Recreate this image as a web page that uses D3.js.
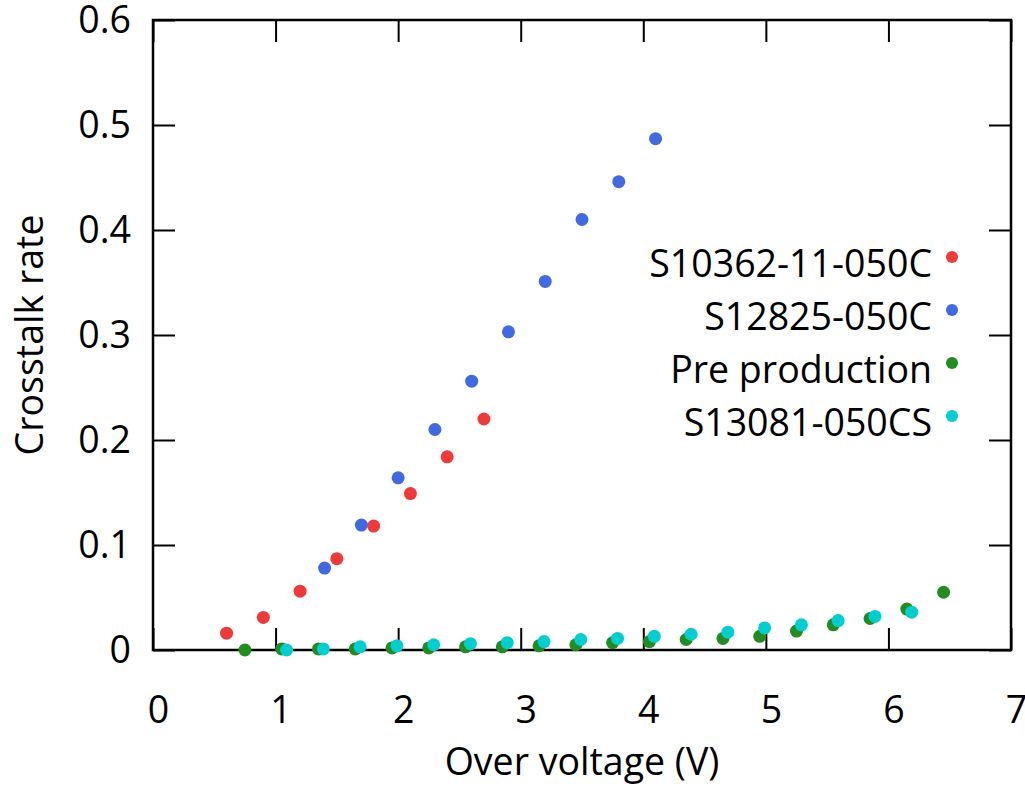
<!DOCTYPE html>
<html>
<head>
<meta charset="utf-8">
<script src="https://cdn.jsdelivr.net/npm/d3@7/dist/d3.min.js"></script>
<style>
  body { margin: 0; background: #fff; }
  svg text { font-family: "Open Sans", sans-serif; fill: #000; }
</style>
</head>
<body>
<svg id="chart" width="1025" height="787"></svg>
<script>
// tick values
var xTicks = [0, 1, 2, 3, 4, 5, 6, 7];
var yTicks = [0, 0.1, 0.2, 0.3, 0.4, 0.5, 0.6];

// series
var seriesNames = ['S10362-11-050C', 'S12825-050C', 'Pre production', 'S13081-050CS'];
var seriesColors = ['#ef3a3a', '#4169e1', '#228b22', '#00ced1'];

var s10362X = [0.6, 0.9, 1.2, 1.5, 1.8, 2.1, 2.4, 2.7];
var s10362Y = [0.016, 0.031, 0.056, 0.087, 0.118, 0.149, 0.184, 0.220];

var s12825X = [1.4, 1.7, 2.0, 2.3, 2.6, 2.9, 3.2, 3.5, 3.8, 4.1];
var s12825Y = [0.078, 0.119, 0.164, 0.210, 0.256, 0.303, 0.351, 0.410, 0.446, 0.487];

var preProdX = [0.75, 1.05, 1.35, 1.65, 1.95, 2.25, 2.55, 2.85, 3.15, 3.45,
                3.75, 4.05, 4.35, 4.65, 4.95, 5.25, 5.55, 5.85, 6.15, 6.45];
var preProdY = [0.000, 0.001, 0.001, 0.001, 0.002, 0.002, 0.003, 0.003, 0.004, 0.005,
                0.007, 0.008, 0.010, 0.011, 0.013, 0.018, 0.024, 0.030, 0.039, 0.055];

var s13081X = [1.09, 1.39, 1.69, 1.99, 2.29, 2.59, 2.89, 3.19, 3.49,
               3.79, 4.09, 4.39, 4.69, 4.99, 5.29, 5.59, 5.89, 6.19];
var s13081Y = [0.000, 0.001, 0.003, 0.004, 0.005, 0.006, 0.007, 0.008, 0.010,
               0.011, 0.013, 0.015, 0.017, 0.021, 0.024, 0.028, 0.032, 0.036];

var seriesX = [s10362X, s12825X, preProdX, s13081X];
var seriesY = [s10362Y, s12825Y, preProdY, s13081Y];

var svg = d3.select('#chart');
// plot frame in pixels (don't call it "top", that's window.top)
var plotLeft = 153, plotRight = 1011, plotTop = 20, plotBottom = 650;
var fontSize = 37.5;

var x = d3.scaleLinear().domain([0, 7]).range([plotLeft, plotRight]);
var y = d3.scaleLinear().domain([0, 0.6]).range([plotBottom, plotTop]);

// inward ticks on all four sides
var xAxis = svg.append('g')
  .attr('transform', 'translate(0,' + plotBottom + ')')
  .call(d3.axisBottom(x).tickValues(xTicks).tickSize(-22).tickSizeOuter(0).tickPadding(46).tickFormat(d3.format('d')));
xAxis.selectAll('text').attr('dx', 5);

var yAxis = svg.append('g')
  .attr('transform', 'translate(' + plotLeft + ',0)')
  .call(d3.axisLeft(y).tickValues(yTicks).tickSize(-22).tickSizeOuter(0).tickPadding(22)
    .tickFormat(function(d) { return d === 0 ? '0' : d3.format('.1f')(d); }));

svg.append('g')
  .attr('transform', 'translate(0,' + plotTop + ')')
  .call(d3.axisTop(x).tickValues(xTicks).tickSize(-22).tickSizeOuter(0).tickFormat(''));

svg.append('g')
  .attr('transform', 'translate(' + plotRight + ',0)')
  .call(d3.axisRight(y).tickValues(yTicks).tickSize(-22).tickSizeOuter(0).tickFormat(''));

svg.selectAll('.domain').remove();
svg.selectAll('.tick line').attr('stroke', '#000').attr('stroke-width', 2);
svg.selectAll('.tick text')
  .attr('font-size', fontSize)
  .style('font-family', '"Open Sans", sans-serif');

svg.append('rect')
  .attr('x', plotLeft)
  .attr('y', plotTop)
  .attr('width', plotRight - plotLeft)
  .attr('height', plotBottom - plotTop)
  .attr('fill', 'none')
  .attr('stroke', '#000')
  .attr('stroke-width', 2.5);

// axis titles
svg.append('text')
  .attr('x', (plotLeft + plotRight) / 2)
  .attr('y', 775)
  .attr('text-anchor', 'middle')
  .attr('font-size', fontSize)
  .text('Over voltage (V)');

svg.append('text')
  .attr('transform', 'translate(43,' + ((plotTop + plotBottom) / 2) + ') rotate(-90)')
  .attr('text-anchor', 'middle')
  .attr('font-size', fontSize)
  .text('Crosstalk rate');

// points, drawn in series order
seriesX.forEach(function(xs, i) {
  var pts = xs.map(function(v, j) { return [v, seriesY[i][j]]; });
  svg.append('g').selectAll('circle')
    .data(pts)
    .enter().append('circle')
    .attr('cx', function(d) { return x(d[0]); })
    .attr('cy', function(d) { return y(d[1]); })
    .attr('r', 6.5)
    .attr('fill', seriesColors[i]);
});

// legend
var legend = svg.append('g').selectAll('g')
  .data(seriesNames)
  .enter().append('g')
  .attr('transform', function(d, i) { return 'translate(0,' + (257 + i * 53) + ')'; });

legend.append('text')
  .attr('x', 932)
  .attr('y', 20)
  .attr('text-anchor', 'end')
  .attr('font-size', fontSize)
  .text(function(d) { return d; });

legend.append('circle')
  .attr('cx', 952)
  .attr('cy', 0)
  .attr('r', 6)
  .attr('fill', function(d, i) { return seriesColors[i]; });
</script>
</body>
</html>
